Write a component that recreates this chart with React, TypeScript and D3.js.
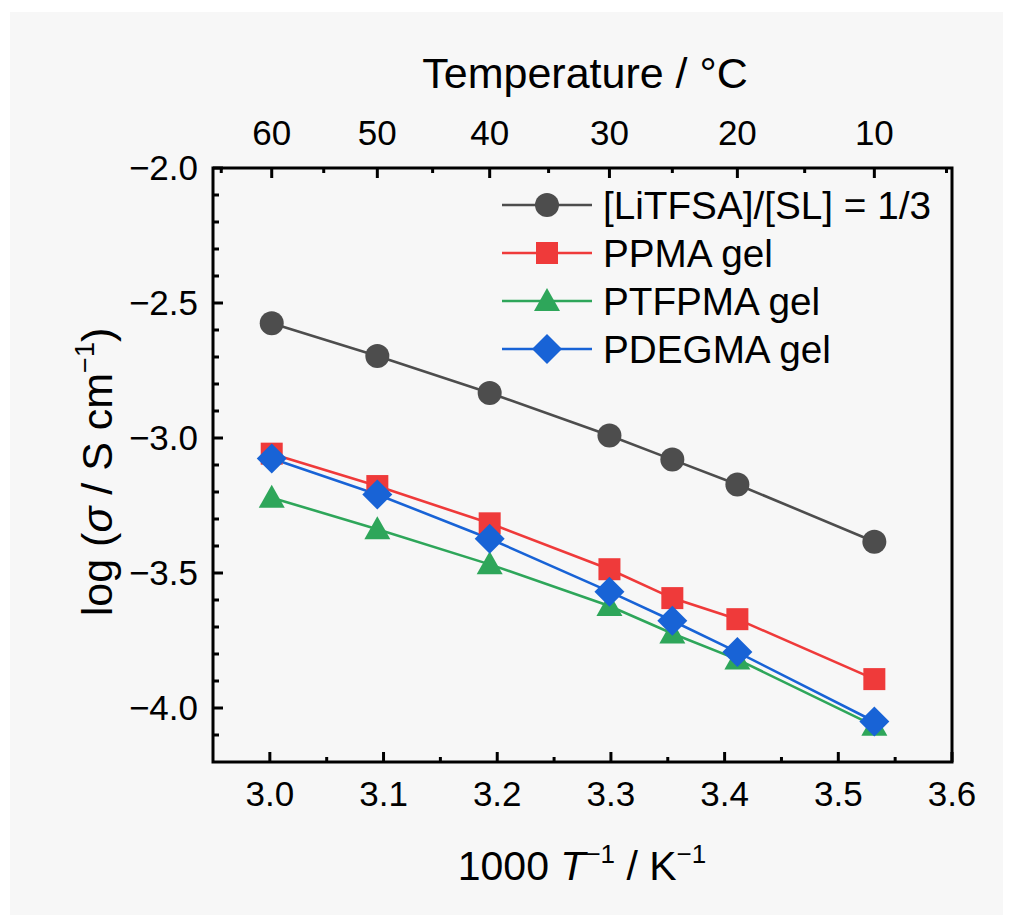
import React from "react";
import * as d3 from "d3";

const tempsC = [60, 50, 40, 30, 25, 20, 10];
const invT = tempsC.map((t) => 1000 / (t + 273.15));

const seriesNames = ["[LiTFSA]/[SL] = 1/3", "PPMA gel", "PTFPMA gel", "PDEGMA gel"];
const electrolyteVals = [-2.575, -2.696, -2.833, -2.991, -3.08, -3.172, -3.384];
const ppmaVals = [-3.058, -3.178, -3.316, -3.486, -3.593, -3.671, -3.893];
const ptfpmaVals = [-3.221, -3.338, -3.468, -3.622, -3.724, -3.82, -4.066];
const pdegmaVals = [-3.076, -3.209, -3.373, -3.569, -3.677, -3.793, -4.05];
const seriesColors = ["#4d4d4d", "#ef3a3a", "#2ea65a", "#1863d6"];
const seriesShapes = ["circle", "square", "triangle", "diamond"];

const xTicks = [3.0, 3.1, 3.2, 3.3, 3.4, 3.5, 3.6];
const xMinor = [3.05, 3.15, 3.25, 3.35, 3.45, 3.55];
const yTicks = [-2.0, -2.5, -3.0, -3.5, -4.0];
const yMinor = [-2.1, -2.2, -2.3, -2.4, -2.6, -2.7, -2.8, -2.9, -3.1, -3.2, -3.3, -3.4, -3.6, -3.7, -3.8, -3.9, -4.1];
const topTicks = [60, 50, 40, 30, 20, 10];
const topMinor = [65, 55, 45, 35, 25, 15, 5];

const W = 1013;
const H = 922;
const L = 213, R = 952, T = 168, B = 762;
const FONT = "'Liberation Sans', Arial, sans-serif";

function Marker({ shape, x, y, color }: { shape: string; x: number; y: number; color: string }) {
  if (shape === "circle") return <circle cx={x} cy={y} r={12} fill={color} />;
  if (shape === "square") return <rect x={x - 11} y={y - 11} width={22} height={22} fill={color} />;
  if (shape === "triangle")
    return <path d={`M${x},${y - 13}L${x + 13},${y + 10}L${x - 13},${y + 10}Z`} fill={color} />;
  return <path d={`M${x},${y - 15}L${x + 15},${y}L${x},${y + 15}L${x - 15},${y}Z`} fill={color} />;
}

export default function App() {
  const x = d3.scaleLinear().domain([2.95, 3.6]).range([L, R]);
  const y = d3.scaleLinear().domain([-4.2, -2.0]).range([B, T]);
  const allVals = [electrolyteVals, ppmaVals, ptfpmaVals, pdegmaVals];
  const line = d3
    .line<[number, number]>()
    .x((d) => x(d[0]))
    .y((d) => y(d[1]));
  const fmt = d3.format(".1f");
  const minus = (v: number) => fmt(v).replace("-", "\u2212");
  const tx = (c: number) => x(1000 / (c + 273.15));

  return (
    <svg width={W} height={H} style={{ position: "absolute", left: 0, top: 0 }} fontFamily={FONT}>
      <rect x={0} y={0} width={W} height={H} fill="#ffffff" />
      <rect x={10} y={12} width={993} height={903} fill="#f7f7f7" />

      {/* series */}
      {allVals.map((vals, i) => (
        <path
          key={"l" + i}
          d={line(invT.map((t, j) => [t, vals[j]]) as [number, number][]) || ""}
          fill="none"
          stroke={seriesColors[i]}
          strokeWidth={2.6}
        />
      ))}
      {allVals.map((vals, i) =>
        vals.map((v, j) => (
          <Marker key={`m${i}-${j}`} shape={seriesShapes[i]} x={x(invT[j])} y={y(v)} color={seriesColors[i]} />
        ))
      )}

      {/* frame */}
      <rect x={L} y={T} width={R - L} height={B - T} fill="none" stroke="#000" strokeWidth={3} />

      {/* bottom ticks */}
      {xTicks.map((t) => (
        <g key={"xt" + t}>
          <line x1={x(t)} x2={x(t)} y1={B} y2={B - 10} stroke="#000" strokeWidth={3} />
          <text x={x(t)} y={806} textAnchor="middle" fontSize={35}>
            {fmt(t)}
          </text>
        </g>
      ))}
      {xMinor.map((t) => (
        <line key={"xm" + t} x1={x(t)} x2={x(t)} y1={B} y2={B - 5} stroke="#000" strokeWidth={3} />
      ))}

      {/* left ticks */}
      {yTicks.map((t) => (
        <g key={"yt" + t}>
          <line x1={L} x2={L + 10} y1={y(t)} y2={y(t)} stroke="#000" strokeWidth={3} />
          <text x={198} y={y(t) + 12} textAnchor="end" fontSize={35}>
            {minus(t)}
          </text>
        </g>
      ))}
      {yMinor.map((t) => (
        <line key={"ym" + t} x1={L} x2={L + 6} y1={y(t)} y2={y(t)} stroke="#000" strokeWidth={3} />
      ))}

      {/* top ticks (temperature) */}
      {topTicks.map((c) => (
        <g key={"tt" + c}>
          <line x1={tx(c)} x2={tx(c)} y1={T} y2={T + 10} stroke="#000" strokeWidth={3} />
          <text x={tx(c)} y={145} textAnchor="middle" fontSize={35}>
            {c}
          </text>
        </g>
      ))}
      {topMinor.map((c) => (
        <line key={"tm" + c} x1={tx(c)} x2={tx(c)} y1={T} y2={T + 5} stroke="#000" strokeWidth={3} />
      ))}

      {/* titles */}
      <text x={585} y={88} textAnchor="middle" fontSize={43}>
        Temperature / °C
      </text>
      <text x={582} y={880} textAnchor="middle" fontSize={41}>
        1000{" "}
        <tspan fontStyle="italic">T</tspan>
        <tspan fontSize={26} dy={-17}>
          {"\u22121"}
        </tspan>
        <tspan dy={17}> / K</tspan>
        <tspan fontSize={26} dy={-17}>
          {"\u22121"}
        </tspan>
      </text>
      <text transform={`translate(112,${(T + B) / 2 + 7}) rotate(-90)`} textAnchor="middle" fontSize={43}>
        log (<tspan fontStyle="italic">σ</tspan> / S cm
        <tspan fontSize={27} dy={-18}>
          {"\u22121"}
        </tspan>
        <tspan dy={18}>)</tspan>
      </text>

      {/* legend */}
      {seriesNames.map((name, i) => {
        const ly = 205 + i * 48;
        return (
          <g key={"lg" + i}>
            <line x1={502} x2={592} y1={ly} y2={ly} stroke={seriesColors[i]} strokeWidth={2.6} />
            <Marker shape={seriesShapes[i]} x={547} y={ly} color={seriesColors[i]} />
            <text x={603} y={ly + 14} fontSize={38.7}>
              {name}
            </text>
          </g>
        );
      })}
    </svg>
  );
}
